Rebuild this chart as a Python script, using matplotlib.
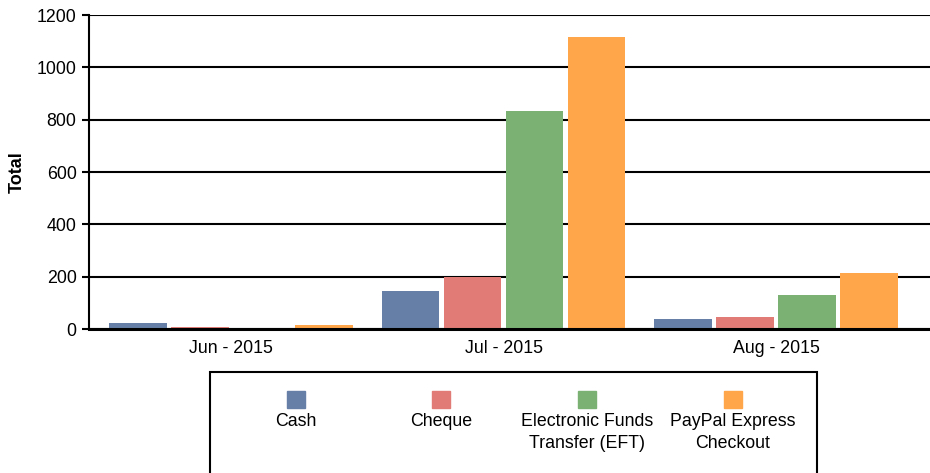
import matplotlib
matplotlib.use("Agg")
import matplotlib.pyplot as plt
from matplotlib.patches import Rectangle
import numpy as np

plt.rcParams['font.family'] = ['Liberation Sans', 'DejaVu Sans']

months = ["Jun - 2015", "Jul - 2015", "Aug - 2015"]
series = ["Cash", "Cheque", "Electronic Funds\nTransfer (EFT)", "PayPal Express\nCheckout"]
cash = [23, 145, 38]
cheque = [9, 199, 46]
eft = [0, 833, 130]
paypal = [15, 1116, 214]
colors = ["#657FA6", "#E07B76", "#7BB274", "#FFA54A"]
yticks = [0, 200, 400, 600, 800, 1000, 1200]

W, H = 930, 473
fig = plt.figure(figsize=(W / 100, H / 100), dpi=100)
ax = fig.add_axes([89 / W, 1 - 329 / H, 1 - 89 / W, (329 - 15) / H])

x = np.arange(len(months))
step = 0.2275
width = 0.21
for i, (vals, c) in enumerate(zip([cash, cheque, eft, paypal], colors)):
    ax.bar(x + (i - 1.5) * step, vals, width=width, color=c, zorder=3)

fs = 12.8
ax.set_xlim(-0.521, 2.565)
ax.set_ylim(0, 1200)
ax.set_yticks(yticks)
ax.set_yticklabels([str(v) for v in yticks], fontsize=fs)
ax.set_xticks(x)
ax.set_xticklabels(months, fontsize=fs)
ax.tick_params(axis='x', length=0, pad=8)
ax.tick_params(axis='y', length=5, width=1.5, direction='out', pad=4)
ax.grid(axis='y', color='black', linewidth=1.5, zorder=0)
for s in ['top', 'right']:
    ax.spines[s].set_visible(False)
ax.spines['left'].set_linewidth(1.5)
ax.spines['bottom'].set_linewidth(2.2)
ax.spines['bottom'].set_zorder(4)
ax.set_ylabel("Total", fontsize=13, fontweight='bold', labelpad=8)

# legend box
fig.patches.append(Rectangle((210 / W, -0.05), (817 - 210) / W, 0.05 + (H - 372) / H,
                             transform=fig.transFigure, fill=False,
                             edgecolor='black', linewidth=1.5))
centers = [296, 441, 587, 733]
for cx, lab, c in zip(centers, series, colors):
    fig.patches.append(Rectangle(((cx - 9) / W, 1 - 408 / H), 18 / W, 17 / H,
                                 transform=fig.transFigure, color=c))
    fig.text(cx / W, 1 - 413 / H, lab, ha='center', va='top', fontsize=fs,
             linespacing=1.4)

fig.savefig("out.png", dpi=100)
